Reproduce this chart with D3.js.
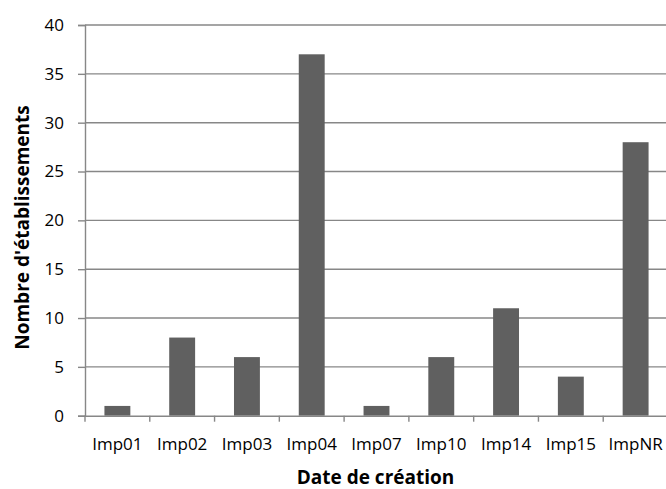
<!DOCTYPE html>
<html><head><meta charset="utf-8">
<script src="https://cdn.jsdelivr.net/npm/d3@7"></script>
<style>body{margin:0;background:#fff}svg{display:block}</style>
</head><body>
<svg id="c" width="666" height="489"></svg>
<script>
const categories = ["Imp01","Imp02","Imp03","Imp04","Imp07","Imp10","Imp14","Imp15","ImpNR"];
const values = [1, 8, 6, 37, 1, 6, 11, 4, 28];
const yTicks = [0, 5, 10, 15, 20, 25, 30, 35, 40];
const xTitle = "Date de création";
const yTitle = "Nombre d'établissements";

(function () {
const svg = d3.select("#c");
const mLeft = 85, mRight = 668, mTop = 25, mBottom = 415.7;
const font = "'Open Sans', sans-serif";
const x = d3.scaleBand().domain(categories).range([mLeft, mRight]).paddingInner(0.6).paddingOuter(0.3);
const xb = d3.scaleBand().domain(categories).range([mLeft, mRight]);
const y = d3.scaleLinear().domain([0, 40]).range([mBottom, mTop]);

// gridlines
svg.append("g").selectAll("line").data(yTicks.filter(d => d > 0)).join("line")
  .attr("x1", mLeft).attr("x2", 666).attr("y1", d => y(d)).attr("y2", d => y(d))
  .attr("stroke", "#878787").attr("stroke-width", 1.4);

// bars
svg.append("g").selectAll("rect").data(values).join("rect")
  .attr("x", (d, i) => x(categories[i]))
  .attr("width", x.bandwidth())
  .attr("y", d => y(d))
  .attr("height", d => y(0) - y(d))
  .attr("fill", "#606060");

// y axis
const ya = svg.append("g").attr("transform", `translate(${mLeft},0)`)
  .call(d3.axisLeft(y).tickValues(yTicks).tickSize(7).tickPadding(14));
ya.select(".domain").attr("stroke", "#878787").attr("stroke-width", 1.4);
ya.selectAll(".tick line").attr("stroke", "#878787").attr("stroke-width", 1.4);
ya.selectAll("text").attr("font-family", font).attr("font-size", 17).attr("fill", "#000");

// x axis
const xa = svg.append("g").attr("transform", `translate(0,${mBottom})`)
  .call(d3.axisBottom(xb).tickSize(0).tickPadding(22));
xa.select(".domain").attr("stroke", "#878787").attr("stroke-width", 1.4);
xa.selectAll("text").attr("font-family", font).attr("font-size", 17).attr("fill", "#000");
xa.selectAll(".tick line").remove();
// boundary ticks
svg.append("g").selectAll("line").data(d3.range(categories.length + 1)).join("line")
  .attr("x1", i => mLeft + i * xb.step()).attr("x2", i => mLeft + i * xb.step())
  .attr("y1", mBottom).attr("y2", mBottom + 6)
  .attr("stroke", "#878787").attr("stroke-width", 1.4);

svg.append("text").attr("x", 375.5).attr("y", 484).attr("text-anchor", "middle")
  .attr("font-family", font).attr("font-size", 19).attr("font-weight", "bold").text(xTitle);
svg.append("text").attr("transform", "translate(29,227.5) rotate(-90)").attr("text-anchor", "middle")
  .attr("font-family", font).attr("font-size", 19).attr("font-weight", "bold").text(yTitle);
})();
</script>
</body></html>
